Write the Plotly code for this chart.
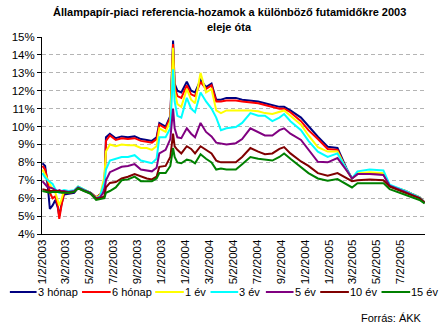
import plotly.graph_objects as go

dates = ["2003-01-02","2003-01-09","2003-01-16","2003-01-21","2003-01-28","2003-02-04","2003-02-10","2003-02-14",
         "2003-02-19","2003-02-26","2003-03-10","2003-03-24","2003-04-03","2003-04-18","2003-05-05","2003-05-19",
         "2003-05-29","2003-06-09","2003-06-13","2003-06-23","2003-07-08","2003-07-23","2003-08-08","2003-08-25",
         "2003-09-10","2003-09-25","2003-10-08","2003-10-20","2003-10-27","2003-11-12","2003-11-24","2003-12-01",
         "2003-12-05","2003-12-12","2003-12-22","2004-01-05","2004-01-16","2004-01-26","2004-02-09","2004-02-23",
         "2004-03-08","2004-03-20","2004-04-01","2004-04-15","2004-05-09","2004-05-25","2004-06-15","2004-07-05",
         "2004-07-22","2004-08-10","2004-08-28","2004-09-09","2004-09-25","2004-10-22","2004-11-10","2004-12-04",
         "2004-12-29","2005-01-23","2005-02-17","2005-03-01","2005-03-15","2005-04-15","2005-05-20","2005-06-05",
         "2005-07-15","2005-08-20","2005-09-02"]

m3 = [7.95,7.8,6.6,5.4,5.6,5.9,5.5,5.0,5.6,6.2,6.25,6.3,6.6,6.45,6.3,6.05,6.2,6.5,9.4,9.6,9.35,9.45,9.4,9.45,
      9.3,9.25,9.2,9.4,10.2,10.0,10.6,14.8,12.4,12.0,11.9,12.5,12.0,11.9,12.6,12.2,12.4,11.5,11.5,11.6,11.6,11.5,
      11.45,11.4,11.3,11.2,11.1,11.1,10.9,10.5,10.0,9.43,8.87,8.8,7.57,7.1,7.35,7.4,7.35,6.7,6.4,6.05,5.75]
m6 = [7.8,7.6,6.9,6.3,6.0,6.1,5.6,4.85,5.5,6.3,6.3,6.35,6.6,6.45,6.3,6.05,6.2,6.45,9.2,9.5,9.25,9.35,9.3,9.35,
      9.2,9.15,9.1,9.3,10.1,9.9,10.5,14.6,12.2,11.7,11.6,12.3,11.8,11.7,12.5,12.1,12.3,11.4,11.4,11.45,11.45,11.4,
      11.35,11.3,11.2,11.1,11.0,11.0,10.8,10.3,9.8,9.3,8.75,8.7,7.5,7.1,7.35,7.4,7.35,6.7,6.4,6.05,5.75]
y1 = [7.6,7.3,7.0,6.8,6.5,6.3,5.9,5.6,5.9,6.4,6.35,6.4,6.65,6.5,6.3,6.05,6.15,7.2,8.6,9.0,8.9,9.0,8.95,8.95,
      8.8,8.8,8.7,8.9,9.9,9.7,10.3,14.4,12.0,11.25,11.1,12.1,11.5,11.3,13.0,11.9,12.1,10.9,10.75,10.9,10.9,10.9,
      10.9,10.85,10.75,10.7,10.8,10.9,10.6,10.1,9.5,8.85,8.6,8.6,7.5,7.1,7.4,7.45,7.4,6.7,6.4,6.05,5.75]
y3 = [7.4,7.15,7.0,6.9,6.8,6.5,6.4,6.3,6.4,6.45,6.4,6.45,6.65,6.5,6.3,6.0,6.1,6.9,7.6,8.1,8.2,8.3,8.3,8.4,
      8.1,8.0,7.95,8.2,9.4,9.4,9.9,13.2,11.4,10.6,10.5,11.6,11.0,10.8,11.9,11.4,11.0,10.5,9.8,9.9,9.97,10.2,
      10.75,10.6,10.6,10.3,10.5,10.7,10.3,9.8,9.2,8.6,8.3,8.5,7.55,7.1,7.5,7.6,7.55,6.75,6.4,6.05,5.75]
y5 = [6.95,6.75,6.6,6.6,6.55,6.45,6.4,6.45,6.4,6.4,6.35,6.4,6.6,6.45,6.3,6.0,6.05,6.4,7.0,7.45,7.6,7.75,7.8,7.9,
      7.6,7.55,7.5,7.7,8.5,8.7,9.3,11.0,9.9,9.4,9.35,9.9,9.6,9.4,10.2,9.7,9.45,9.1,9.05,9.0,9.07,9.3,
      9.9,9.7,9.5,9.5,9.8,9.9,9.6,9.25,8.7,8.03,8.0,8.24,7.5,7.1,7.35,7.35,7.3,6.7,6.35,6.0,5.75]
y10 = [6.5,6.45,6.4,6.4,6.4,6.4,6.4,6.4,6.35,6.35,6.3,6.35,6.55,6.4,6.25,5.95,6.0,6.1,6.6,6.85,6.9,7.1,7.2,7.35,
       7.2,7.1,7.05,7.2,7.75,7.8,8.3,9.6,8.9,8.7,8.5,8.9,8.75,8.5,8.9,8.7,8.5,8.1,8.0,8.0,8.0,8.3,
       8.8,8.6,8.45,8.5,8.75,8.85,8.5,8.05,7.8,7.4,7.25,7.4,7.07,6.95,7.0,7.05,7.0,6.65,6.3,6.0,5.75]
y15 = [6.4,6.35,6.3,6.3,6.35,6.35,6.35,6.35,6.3,6.3,6.3,6.35,6.55,6.4,6.25,5.9,5.95,6.0,6.3,6.4,6.6,7.0,7.05,7.2,
       6.95,6.95,6.95,7.1,7.4,7.4,7.8,8.8,8.3,8.0,7.95,8.15,8.1,7.95,8.45,8.2,8.0,7.6,7.65,7.6,7.6,7.9,
       8.3,8.2,8.15,8.1,8.3,8.5,8.2,7.75,7.4,7.1,6.97,7.07,6.73,6.6,6.84,6.85,6.84,6.5,6.2,5.9,5.7]

series_names = ["3 hónap", "6 hónap", "1 év", "3 év", "5 év", "10 év", "15 év"]
series_values = [m3, m6, y1, y3, y5, y10, y15]
colors = ["#000080", "#FF0000", "#FFFF00", "#00FFFF", "#800080", "#800000", "#008000"]

tick_dates = ["2003-01-02","2003-03-02","2003-05-02","2003-07-02","2003-09-02","2003-11-02",
              "2004-01-02","2004-03-02","2004-05-02","2004-07-02","2004-09-02","2004-11-02",
              "2005-01-02","2005-03-02","2005-05-02","2005-07-02"]
tick_labels = ["1/2/2003","3/2/2003","5/2/2003","7/2/2003","9/2/2003","1/2/2003",
               "1/2/2004","3/2/2004","5/2/2004","7/2/2004","9/2/2004","1/2/2004",
               "1/2/2005","3/2/2005","5/2/2005","7/2/2005"]
y_ticks = list(range(4, 16))

FONT = "Liberation Sans, Arial, sans-serif"
W, H = 441, 327
PL, PR, PT, PB = 37.5, 425.0, 37.0, 234.0
PW, PH = PR - PL, PB - PT

def px(x):
    return (x - PL) / PW

def py(y):
    return (PB - y) / PH

fig = go.Figure()
for name, vals, col in zip(series_names, series_values, colors):
    fig.add_trace(go.Scatter(x=dates, y=vals, mode="lines", name=name,
                             line=dict(color=col, width=2), showlegend=False))

# manual legend (line sample + text)
leg_line_x = [(5, 32), (78, 107), (152, 181), (208, 236), (264, 292), (319, 348), (381, 410)]
for (x0, x1), name, col in zip(leg_line_x, series_names, colors):
    fig.add_shape(type="line", xref="paper", yref="paper",
                  x0=px(x0), x1=px(x1), y0=py(292), y1=py(292),
                  line=dict(color=col, width=2))
    fig.add_annotation(text=name, xref="paper", yref="paper",
                       x=px(x1), y=py(292), xanchor="left", yanchor="middle",
                       showarrow=False, xshift=-1,
                       font=dict(family=FONT, size=11, color="black"))

fig.add_annotation(text="Forrás: ÁKK", xref="paper", yref="paper",
                   x=px(424), y=py(318), xanchor="right", yanchor="middle",
                   showarrow=False, font=dict(family=FONT, size=11, color="black"))

# title
fig.add_annotation(text="<b>Állampapír-piaci referencia-hozamok a különböző futamidőkre 2003</b>",
                   xref="paper", yref="paper", x=px(227), y=py(12),
                   xanchor="center", yanchor="middle", showarrow=False,
                   font=dict(family=FONT, size=11, color="black"))
fig.add_annotation(text="<b>eleje óta</b>",
                   xref="paper", yref="paper", x=px(227), y=py(27),
                   xanchor="center", yanchor="middle", showarrow=False,
                   font=dict(family=FONT, size=11, color="black"))

fig.update_layout(
    width=W, height=H,
    margin=dict(l=PL, r=W - PR, t=PT, b=H - PB),
    paper_bgcolor="white", plot_bgcolor="white",
    xaxis=dict(type="date", range=["2003-01-01", "2005-09-03"],
               tickmode="array", tickvals=tick_dates, ticktext=tick_labels,
               tickangle=-90, showgrid=False, showline=True, linecolor="black", linewidth=1,
               ticks="", tickfont=dict(family=FONT, size=11.5, color="black")),
    yaxis=dict(range=[4, 15], tickmode="array", tickvals=y_ticks,
               ticktext=[f"{v}%" for v in y_ticks],
               showgrid=True, gridcolor="#B4B4B4", griddash="4px,3px", gridwidth=1,
               showline=True, linecolor="black", linewidth=1, ticks="outside", ticklen=4,
               tickcolor="black", zeroline=False,
               tickfont=dict(family=FONT, size=11.5, color="black")),
)

fig.write_html("out.html")
